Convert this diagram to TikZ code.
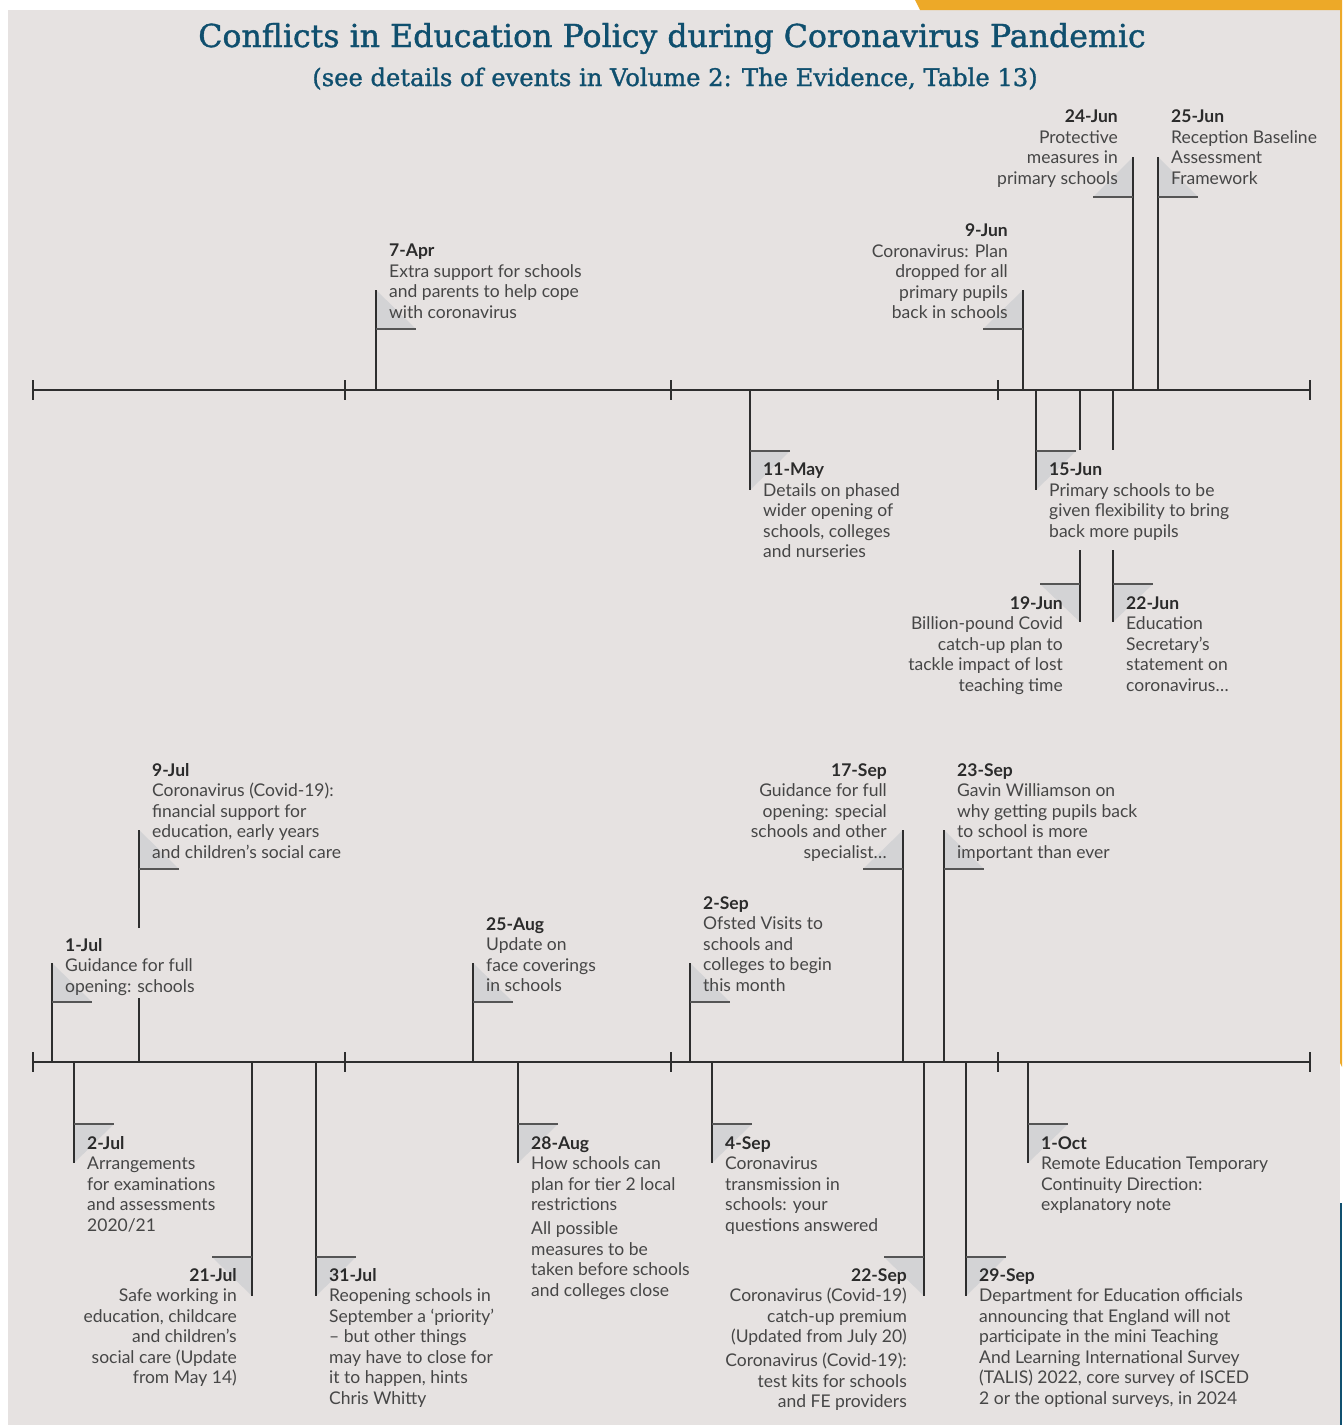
\documentclass[tikz,border=0pt]{standalone}
\usepackage{fontspec}
\setmainfont{Lato}
\newfontfamily\titlefont[FakeBold=1.2]{DejaVu Serif}
\definecolor{bgcol}{HTML}{E6E2E1}
\definecolor{flagcol}{HTML}{D3D3D5}
\definecolor{linecol}{HTML}{2E2E2E}
\definecolor{flaglinecol}{HTML}{555555}
\definecolor{datecol}{HTML}{2B2B2B}
\definecolor{bodycol}{HTML}{464646}
\definecolor{titlecol}{HTML}{0F4F6E}
\definecolor{orangecol}{HTML}{EDA928}
\definecolor{bluecol}{HTML}{10506F}
\newcommand{\tlevent}[6]{%
  \coordinate (#1-a) at (#2,#3);
  \coordinate (#1-e) at (#2,#4);
  \coordinate (#1-c) at (#2,#5);
  \coordinate (#1-f) at ({#2+40*#6},#5);
  \fill[flagcol] (#1-e) -- (#1-c) -- (#1-f) -- cycle;
  \draw[stemline] (#1-a) -- (#1-e);
  \draw[flagline] (#1-c) -- (#1-f);
}
\newcommand{\tleventgap}[8]{%
  \coordinate (#1-a) at (#2,#3);
  \coordinate (#1-e) at (#2,#4);
  \coordinate (#1-c) at (#2,#5);
  \coordinate (#1-f) at ({#2+40*#6},#5);
  \coordinate (#1-g1) at (#2,#7);
  \coordinate (#1-g2) at (#2,#8);
  \fill[flagcol] (#1-e) -- (#1-c) -- (#1-f) -- cycle;
  \draw[stemline] (#1-a) -- (#1-g1);
  \draw[stemline] (#1-g2) -- (#1-e);
  \draw[flagline] (#1-c) -- (#1-f);
}
\newcommand{\dt}[1]{\textcolor{datecol}{\bfseries #1}}
\begin{document}
\begin{tikzpicture}[x=1pt,y=-1pt,
  stemline/.style={draw=linecol,line width=1.4pt},
  flagline/.style={draw=flaglinecol,line width=1.4pt},
  axisline/.style={draw=linecol,line width=1.8pt},
  tickline/.style={draw=linecol,line width=1.6pt},
  lbl/.style={inner sep=0pt,align=left,anchor=north west,text=bodycol,font={\fontsize{17.5}{20.5}\selectfont}},
  lblr/.style={inner sep=0pt,align=right,anchor=north east,text=bodycol,font={\fontsize{17.5}{20.5}\selectfont}},
  titlestyle/.style={inner sep=0pt,anchor=base,text=titlecol,font={\titlefont\fontsize{31.6}{36}\selectfont}},
  subtitlestyle/.style={inner sep=0pt,anchor=base,text=titlecol,font={\titlefont\fontsize{24.2}{28}\selectfont}}
]
\useasboundingbox (0,0) rectangle (1342,1425);
% frame
\fill[bgcol] (8,10) rectangle (1340,1425);
\fill[orangecol] (915,0) -- (1342,0) -- (1342,1067) -- (1340,1063) -- (1340,10) -- (920,10) -- cycle;
\fill[bluecol] (1340,1203) -- (1342,1203) -- (1342,1425) -- (1340,1425) -- cycle;

% title
\node[titlestyle] (title) at (672,47) {Conflicts in Education Policy during Coronavirus Pandemic};
\node[subtitlestyle] (subtitle) at (675,86) {(see details of events in Volume 2: The Evidence, Table 13)};

% ===== top timeline events =====
\tlevent{apr7}{376}{390}{290}{329}{1}
\tlevent{jun9}{1023}{390}{290}{329}{-1}
\tlevent{jun24}{1133}{390}{157}{197}{-1}
\tlevent{jun25}{1158}{390}{157}{197}{1}
\tlevent{may11}{750}{390}{490}{451}{1}
\tlevent{jun15}{1036}{390}{490}{451}{1}
\tleventgap{jun19}{1080}{390}{622}{584}{-1}{450}{550}
\tleventgap{jun22}{1113}{390}{622}{584}{1}{450}{550}

% top axis
\coordinate (ax1s) at (33,390);
\coordinate (ax1e) at (1310,390);
\draw[axisline] (ax1s) -- (ax1e);
\foreach \tx [count=\i] in {33,345,671,998,1310}{
  \coordinate (t1a\i) at (\tx,380);
  \coordinate (t1b\i) at (\tx,400);
  \draw[tickline] (t1a\i) -- (t1b\i);
}

% ===== bottom timeline events =====
\tlevent{jul1}{52}{1062}{963}{1002}{1}
\tleventgap{jul9}{139}{1062}{830}{869}{1}{998}{928}
\tlevent{aug25}{473}{1062}{963}{1002}{1}
\tlevent{sep2}{690}{1062}{963}{1002}{1}
\tlevent{sep17}{903}{1062}{830}{869}{-1}
\tlevent{sep23}{944}{1062}{830}{869}{1}
\tlevent{jul2}{74}{1062}{1163}{1124}{1}
\tlevent{jul21}{252}{1062}{1296}{1257}{-1}
\tlevent{jul31}{316}{1062}{1296}{1257}{1}
\tlevent{aug28}{518}{1062}{1163}{1124}{1}
\tlevent{sep4}{712}{1062}{1163}{1124}{1}
\tlevent{sep22}{924}{1062}{1296}{1257}{-1}
\tlevent{sep29}{966}{1062}{1296}{1257}{1}
\tlevent{oct1}{1028}{1062}{1163}{1124}{1}

% bottom axis
\coordinate (ax2s) at (33,1062);
\coordinate (ax2e) at (1310,1062);
\draw[axisline] (ax2s) -- (ax2e);
\foreach \tx [count=\i] in {33,345,671,998,1310}{
  \coordinate (t2a\i) at (\tx,1052);
  \coordinate (t2b\i) at (\tx,1072);
  \draw[tickline] (t2a\i) -- (t2b\i);
}

% ===== labels =====
\node[lbl] (l-apr7) at (389,244) {\dt{7-Apr}\\Extra support for schools\\and parents to help cope\\with coronavirus};
\node[lblr] (l-jun9) at (1008,224) {\dt{9-Jun}\\Coronavirus: Plan\\dropped for all\\primary pupils\\back in schools};
\node[lblr] (l-jun24) at (1118,110) {\dt{24-Jun}\\Protective\\measures in\\primary schools};
\node[lbl] (l-jun25) at (1171,110) {\dt{25-Jun}\\Reception Baseline\\Assessment\\Framework};
\node[lbl] (l-may11) at (763,463) {\dt{11-May}\\Details on phased\\wider opening of\\schools, colleges\\and nurseries};
\node[lbl] (l-jun15) at (1049,463) {\dt{15-Jun}\\Primary schools to be\\given flexibility to bring\\back more pupils};
\node[lblr] (l-jun19) at (1063,596) {\dt{19-Jun}\\Billion-pound Covid\\catch-up plan to\\tackle impact of lost\\teaching time};
\node[lbl] (l-jun22) at (1126,596) {\dt{22-Jun}\\Education\\Secretary’s\\statement on\\coronavirus…};

\node[lbl] (l-jul1) at (65,938) {\dt{1-Jul}\\Guidance for full\\opening: schools};
\node[lbl] (l-jul9) at (152,763) {\dt{9-Jul}\\Coronavirus (Covid-19):\\financial support for\\education, early years\\and children’s social care};
\node[lbl] (l-aug25) at (486,917) {\dt{25-Aug}\\Update on\\face coverings\\in schools};
\node[lbl] (l-sep2) at (703,896) {\dt{2-Sep}\\Ofsted Visits to\\schools and\\colleges to begin\\this month};
\node[lblr] (l-sep17) at (887,763) {\dt{17-Sep}\\Guidance for full\\opening: special\\schools and other\\specialist…};
\node[lbl] (l-sep23) at (957,763) {\dt{23-Sep}\\Gavin Williamson on\\why getting pupils back\\to school is more\\important than ever};

\node[lbl] (l-jul2) at (87,1136) {\dt{2-Jul}\\Arrangements\\for examinations\\and assessments\\2020/21};
\node[lblr] (l-jul21) at (237,1268) {\dt{21-Jul}\\Safe working in\\education, childcare\\and children’s\\social care (Update\\from May 14)};
\node[lbl] (l-jul31) at (329,1268) {\dt{31-Jul}\\Reopening schools in\\September a ‘priority’\\– but other things\\may have to close for\\it to happen, hints\\Chris Whitty};
\node[lbl] (l-aug28) at (531,1136) {\dt{28-Aug}\\How schools can\\plan for tier 2 local\\restrictions\\[3.5pt]All possible\\measures to be\\taken before schools\\and colleges close};
\node[lbl] (l-sep4) at (725,1136) {\dt{4-Sep}\\Coronavirus\\transmission in\\schools: your\\questions answered};
\node[lblr] (l-sep22) at (907,1268) {\dt{22-Sep}\\Coronavirus (Covid-19)\\catch-up premium\\(Updated from July 20)\\[3.5pt]Coronavirus (Covid-19):\\test kits for schools\\and FE providers};
\node[lbl] (l-sep29) at (979,1268) {\dt{29-Sep}\\Department for Education officials\\announcing that England will not\\participate in the mini Teaching\\And Learning International Survey\\(TALIS) 2022, core survey of ISCED\\2 or the optional surveys, in 2024};
\node[lbl] (l-oct1) at (1041,1136) {\dt{1-Oct}\\Remote Education Temporary\\Continuity Direction:\\explanatory note};
\end{tikzpicture}
\end{document}
